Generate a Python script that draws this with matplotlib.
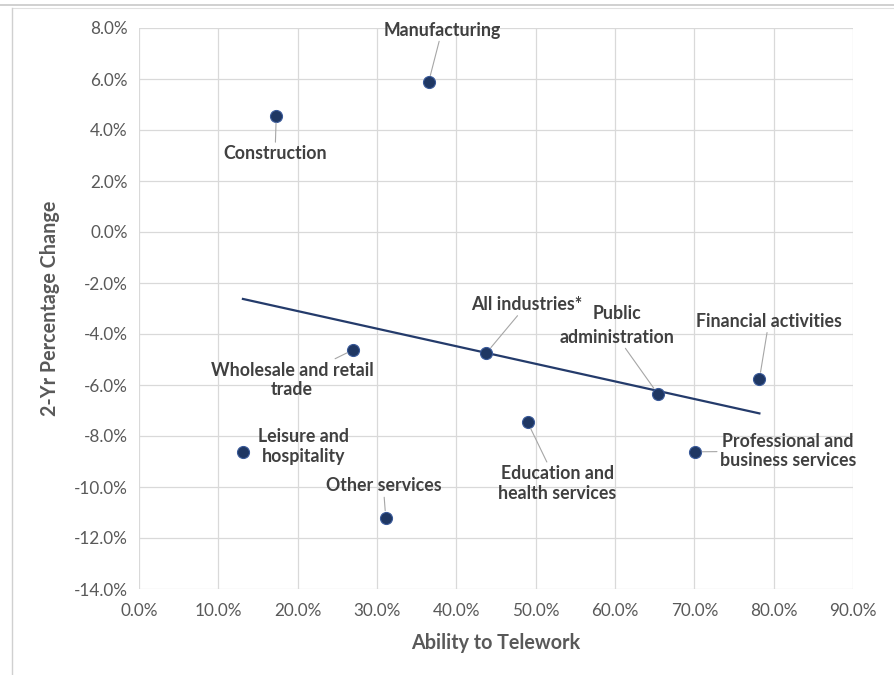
import numpy as np
import matplotlib.pyplot as plt
from matplotlib.lines import Line2D
from matplotlib.ticker import FuncFormatter, MultipleLocator

plt.rcParams['font.family'] = ['Lato', 'DejaVu Sans']

# data (percent)
industries = ["Construction", "Manufacturing", "Wholesale and retail\ntrade",
              "Leisure and\nhospitality", "Other services", "All industries*",
              "Education and\nhealth services", "administration",
              "Professional and\nbusiness services", "Financial activities"]
telework = [17.3, 36.5, 27.0, 13.1, 31.1, 43.8, 49.0, 65.4, 70.1, 78.2]
change = [4.55, 5.87, -4.62, -8.62, -11.2, -4.74, -7.47, -6.35, -8.62, -5.77]

# label positions (data coords) and whether a leader line is drawn
label_pos = [(17.15, 3.08), (38.2, 7.92), (19.3, -5.80), (20.7, -8.42),
             (30.8, -9.96), (48.9, -2.84), (52.7, -9.85), (60.3, -4.12),
             (81.8, -8.59), (79.4, -3.50)]
leader = [True, True, True, False, True, True, True, True, True, True]

NAVY = "#1f3763"
TXT = "#404040"
GRID = "#d9d9d9"

fig = plt.figure(figsize=(8.95, 6.75), dpi=100)
ax = fig.add_axes([139 / 895, 1 - 589 / 675, (853 - 139) / 895, (589 - 28) / 675])

ax.set_xlim(0, 90)
ax.set_ylim(-14, 8)
ax.xaxis.set_major_locator(MultipleLocator(10))
ax.yaxis.set_major_locator(MultipleLocator(2))
fmt = FuncFormatter(lambda v, p: "%.1f%%" % v)
ax.xaxis.set_major_formatter(fmt)
ax.yaxis.set_major_formatter(fmt)
ax.grid(True, color=GRID, lw=0.9)
ax.set_axisbelow(True)
for s in ax.spines.values():
    s.set_visible(False)
ax.tick_params(length=0, labelsize=12.3, labelcolor="#595959", pad=8)
ax.tick_params(axis="x", pad=10)

# trendline (least squares over the data range)
k, b = np.polyfit(telework, change, 1)
xs = np.array([min(telework), max(telework)])
ax.plot(xs, k * xs + b, color="#243b6b", lw=1.6, zorder=2)

ax.scatter(telework, change, s=75, color=NAVY, edgecolor="#3a5a9a",
           linewidth=0.8, zorder=3)

lbl = dict(ha="center", va="center", fontsize=12.8, fontweight="bold",
           color=TXT, linespacing=1.2, zorder=4)
for name, x, y, (tx, ty), ld in zip(industries, telework, change, label_pos, leader):
    props = dict(arrowstyle="-", color="#a6a6a6", lw=0.8, shrinkA=0, shrinkB=5) if ld else None
    ax.annotate(name, xy=(x, y), xytext=(tx, ty), arrowprops=props, **lbl)
# first line of the public administration label
ax.text(60.3, -3.18, "Public", **lbl)

ax.set_xlabel("Ability to Telework", fontsize=14.2, fontweight="bold",
              color="#595959", labelpad=10)
ax.set_ylabel("2-Yr Percentage Change", fontsize=14.2, fontweight="bold",
              color="#595959", labelpad=10)

# outer frame of the screenshot
fig.add_artist(Line2D([0, 1], [1 - 5 / 675, 1 - 5 / 675], color="#c8c8c8", lw=1.2))
fig.add_artist(Line2D([12 / 895, 1], [1 - 8 / 675, 1 - 8 / 675], color="#e0e0e0", lw=0.8))
fig.add_artist(Line2D([12 / 895, 12 / 895], [0, 1 - 8 / 675], color="#d0d0d0", lw=1.0))

fig.savefig("out.png", dpi=100)
